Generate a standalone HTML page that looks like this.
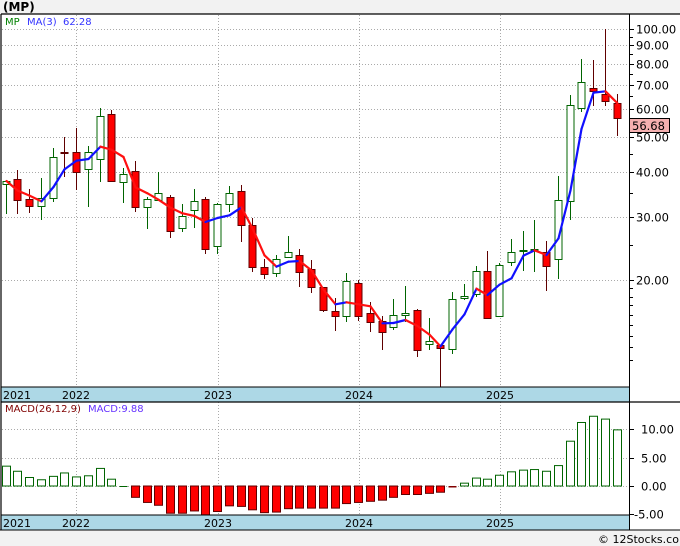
<!DOCTYPE html>
<html><head><meta charset="utf-8"><style>
body{margin:0;background:#fff;}
svg{display:block;font-family:"DejaVu Sans","Liberation Sans",sans-serif;}
</style></head><body>
<svg id="s" width="680" height="546" xmlns="http://www.w3.org/2000/svg">
<rect x="0" y="0" width="680" height="546" fill="#fff"/>
<rect x="0" y="0" width="680" height="14" fill="#f2f2f2"/>
<rect x="0" y="530" width="680" height="16" fill="#f2f2f2"/>
<text x="3" y="11" font-size="12" font-weight="bold" fill="#000">(MP)</text>
<g id="grid" stroke="#aaa" stroke-dasharray="1,2" stroke-width="1"></g>
<rect x="1" y="387" width="628" height="15" fill="#add8e6"/>
<rect x="1" y="515" width="628" height="15" fill="#add8e6"/>
<g id="plot"></g>
<line x1="1" y1="14" x2="680" y2="14" stroke="#000" stroke-width="1.2"/>
<line x1="1" y1="14" x2="1" y2="530" stroke="#000" stroke-width="1.2"/>
<line x1="629.5" y1="14" x2="629.5" y2="530" stroke="#000" stroke-width="1"/>
<line x1="1" y1="387" x2="629" y2="387" stroke="#000"/>
<line x1="1" y1="402" x2="680" y2="402" stroke="#000" stroke-width="1.2"/>
<line x1="1" y1="515" x2="629" y2="515" stroke="#000"/>
<line x1="0" y1="530" x2="680" y2="530" stroke="#000"/>
<g font-size="11" fill="#000">
<text x="3" y="399">2021</text><text x="62" y="399">2022</text><text x="204" y="399">2023</text><text x="345" y="399">2024</text><text x="486" y="399">2025</text>
<text x="3" y="527">2021</text><text x="62" y="527">2022</text><text x="204" y="527">2023</text><text x="345" y="527">2024</text><text x="486" y="527">2025</text>
</g>
<g font-size="10">
<text x="5" y="25" fill="#008000">MP</text><text x="27" y="25" fill="#3333ff">MA(3)</text><text x="63" y="25" fill="#3333ff">62.28</text>
<text x="5" y="412" fill="#800000">MACD(26,12,9)</text><text x="88" y="412" fill="#6633ff">MACD:9.88</text>
</g>
<g id="axis" font-size="11.5" fill="#000"></g>
<rect x="629.5" y="118.5" width="40" height="14" fill="#f4b0b0" stroke="#000"/>
<text x="632" y="130" font-size="11.5" fill="#000">56.68</text>
<text x="598" y="543" font-size="11" fill="#000">© 12Stocks.com</text>
</svg>
<script>
const NS="http://www.w3.org/2000/svg";
function el(p,t,a){const e=document.createElementNS(NS,t);for(const k in a)e.setAttribute(k,a[k]);p.appendChild(e);return e;}
const grid=document.getElementById('grid'),plot=document.getElementById('plot'),axis=document.getElementById('axis');
const Y=p=>29+156*Math.log(100/p);
[76,218,359,500].forEach(x=>{el(grid,'line',{x1:x+.5,y1:15,x2:x+.5,y2:530});});
[100,90,80,70,60,50,40,30,20].forEach(p=>{const y=Math.round(Y(p))+.5;el(grid,'line',{x1:2,y1:y,x2:629,y2:y});
 el(axis,'line',{x1:629,y1:y,x2:634,y2:y,stroke:'#000'});el(axis,'text',{x:636,y:y+4}).textContent=p.toFixed(2);});
[95,85,75,65,55,45,35,25,19,18,17,16,15,14,13,12].forEach(p=>{const y=Math.round(Y(p))+.5;if(y<386)el(axis,'line',{x1:629,y1:y,x2:633,y2:y,stroke:'#000'});});
const M=v=>486-5.67*v;
[10,5,0].forEach(v=>{const y=Math.round(M(v))+.5;el(grid,'line',{x1:2,y1:y,x2:629,y2:y});});
[10,5,0,-5].forEach(v=>{const y=Math.round(M(v))+.5;el(axis,'line',{x1:629,y1:y,x2:634,y2:y,stroke:'#000'});el(axis,'text',{x:v<0?634:641,y:y+4}).textContent=v.toFixed(2);});
// [bodyTop,bodyBot,high,low,up]
const C=[[181,184,181,214,1],[179,200,170,214,0],[199,206,189,213,0],[198,206,178,220,1],[157,198,148,202,1],[152,153,137,177,0],[152,172,128,190,0],[152,169,146,207,1],[116,159,108,182,1],[114,181,110,182,0],[174,182,168,203,1],[171,207,161,212,0],[199,207,197,229,1],[193,200,172,201,1],[197,231,195,238,0],[216,228,204,232,1],[201,210,189,228,1],[199,249,197,254,0],[204,246,203,254,1],[193,204,186,212,1],[191,225,185,242,0],[225,267,218,272,0],[267,274,259,279,0],[259,273,255,277,1],[252,257,236,258,1],[255,272,249,287,0],[269,287,260,293,0],[287,310,287,312,0],[311,316,298,331,0],[281,316,273,322,1],[283,316,280,321,0],[313,322,302,332,0],[321,332,316,350,0],[315,327,299,330,1],[313,315,286,322,1],[310,350,309,357,0],[341,344,318,350,1],[345,348,345,387,0],[299,349,292,354,1],[296,298,284,300,1],[271,294,266,297,1],[271,318,251,318,0],[265,316,263,316,1],[252,262,239,266,1],[250,251,231,271,1],[249,250,220,272,1],[252,266,241,291,0],[200,259,176,279,1],[105,201,95,220,1],[82,108,59,112,1],[88,91,60,106,0],[94,101,29,106,0],[103,118,94,136,0]];
const X=i=>Math.round(76+11.75*(i-6));
const closes=C.map(c=>c[4]?c[0]:c[1]);
const ma=closes.map((c,i)=>{const s=closes.slice(Math.max(0,i-2),i+1);return s.reduce((a,b)=>a+b)/s.length;});
C.forEach((c,i)=>{const x=X(i);const col=c[4]?'#006400':'#600000';
 el(plot,'line',{x1:x+.5,y1:c[2],x2:x+.5,y2:c[3],stroke:col});
 const h=Math.max(1,c[1]-c[0]);
 if(c[4])el(plot,'rect',{x:x-3,y:c[0]+.5,width:7,height:h,fill:'#fff',stroke:'#006400'});
 else el(plot,'rect',{x:x-3,y:c[0]+.5,width:7,height:h,fill:'#f00',stroke:'#600000'});
});
for(let i=1;i<ma.length;i++){el(plot,'line',{x1:X(i-1)+.5,y1:ma[i-1],x2:X(i)+.5,y2:ma[i],stroke:ma[i]<=ma[i-1]?'#1010ff':'#ff1010','stroke-width':2.2,'stroke-linecap':'round'});}
const MV=[3.5,2.6,1.5,1.1,1.7,2.3,1.6,1.8,3.1,1.2,0,-2,-2.9,-3.4,-4.8,-4.8,-4.4,-5.1,-4.5,-3.5,-3.6,-4.2,-4.7,-4.6,-4,-3.9,-3.9,-3.9,-3.9,-3.1,-2.9,-2.7,-2.5,-2,-1.5,-1.5,-1.3,-1.1,-0.2,0.5,1.4,1.2,1.9,2.5,2.8,2.9,2.6,3.6,7.9,11.2,12.3,11.8,9.9];
MV.forEach((v,i)=>{const x=X(i);const y0=486,y1=M(v);
 if(v>0)el(plot,'rect',{x:x-3.5,y:y1,width:8,height:y0-y1,fill:'#fff',stroke:'#006400'});
 else if(v<-0.5)el(plot,'rect',{x:x-3.5,y:y0,width:8,height:y1-y0,fill:'#f00',stroke:'#600000'});
 else if(v<0)el(plot,'rect',{x:x-3.5,y:y0,width:8,height:1.5,fill:'#800000'});
 else el(plot,'line',{x1:x-3.5,y1:486.5,x2:x+4.5,y2:486.5,stroke:'#006400'});
});
</script>
</body></html>
